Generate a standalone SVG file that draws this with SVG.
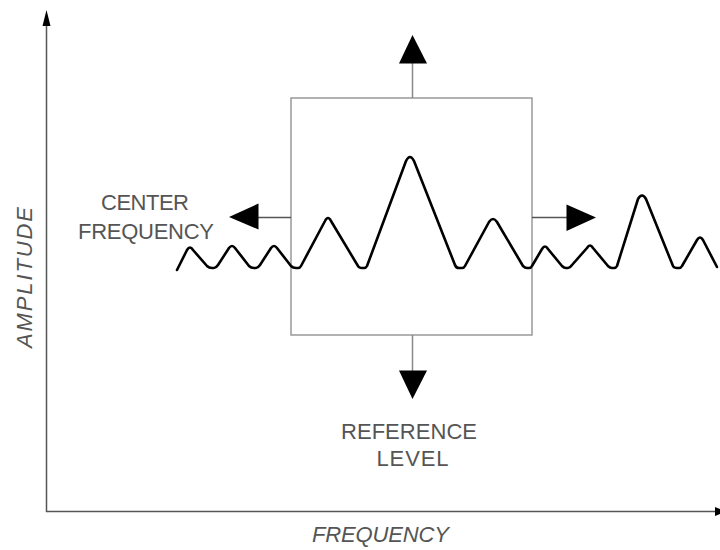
<svg xmlns="http://www.w3.org/2000/svg" width="720" height="550" viewBox="0 0 720 550">
<style>
.lbl{font-family:"Liberation Sans",Arial,sans-serif;font-size:22px;fill:#555}
.it{font-style:italic}
.ax{stroke:#555;stroke-width:1.5;fill:none}
.stem{stroke:#888;stroke-width:1.5;fill:none}
.head{fill:#000;stroke:none}
.wave{fill:none;stroke:#000;stroke-width:2.6;stroke-linejoin:round;stroke-linecap:round}
</style>
<rect width="720" height="550" fill="#fff"/>
<g id="axes">
<line class="ax" x1="46.5" y1="22" x2="46.5" y2="512"/>
<polygon class="head" points="46.5,10 42.5,26 50.5,26"/>
<line class="ax" x1="46" y1="511.5" x2="716" y2="511.5"/>
<polygon class="head" points="726,511.5 715,507 715,516"/>
</g>
<g id="box">
<rect x="291" y="98" width="241" height="237" fill="none" stroke="#999" stroke-width="1.5"/>
</g>
<g id="connectors">
<line class="stem" x1="412.5" y1="98" x2="412.5" y2="62"/>
<polygon class="head" points="412.5,35 399,63.5 427,63.5"/>
<line class="stem" x1="412.5" y1="335" x2="412.5" y2="372"/>
<polygon class="head" points="412.5,399 399,370.5 427,370.5"/>
<line class="ax" x1="291" y1="217.5" x2="257" y2="217.5"/>
<polygon class="head" points="229,217 258.5,203.5 258.5,229.5"/>
<line class="ax" x1="532" y1="217.5" x2="568" y2="217.5"/>
<polygon class="head" points="596,217.5 566.5,204.5 566.5,231"/>
</g>
<g id="wave">
<path class="wave" d="M177,270 L187,250 Q190,245 193,250 L207,266 Q209,268 212,268 L214,268 Q216,268 218,265 L229,248 Q232,244 235,248 L249,266 Q251,268 254,268 L256,268 Q258,268 260,265 L271,248 Q274,244 277,248 L291,266 Q293,268 296,268 L298,268 Q300,268 301,266 L325,221 Q328,215 331,221 L358,266 Q359,268 362,268 L364,268 Q366,268 367,266 L406,161 Q410,153 414,161 L455,265 Q456,268 459,268 L462,268 Q464,268 465,266 L489,222 Q493,216 497,222 L523,266 Q525,268 527,268 L529,268 Q531,268 532,266 L542,249 Q545,244 548,249 L562,266 Q564,268 566,268 L568,268 Q570,268 572,265 L587,248 Q590,243 593,248 L608,266 Q610,268 612,268 L614,268 Q616,268 617,266 L638,199 Q642,192 646,199 L673,266 Q674,268 677,268 L679,268 Q681,268 682,266 L697,240 Q700,235 703,240 L717,267"/>
</g>
<g id="label-center">
<text class="lbl" x="101" y="210" textLength="88" lengthAdjust="spacing">CENTER</text>
<text class="lbl" x="78" y="238.5" textLength="136" lengthAdjust="spacing">FREQUENCY</text>
</g>
<g id="label-reference">
<text class="lbl" x="341" y="438.5" textLength="136" lengthAdjust="spacing">REFERENCE</text>
<text class="lbl" x="376.5" y="465.5" textLength="72" lengthAdjust="spacing">LEVEL</text>
</g>
<g id="label-x">
<text class="lbl it" x="312" y="541.5" textLength="137" lengthAdjust="spacing">FREQUENCY</text>
</g>
<g id="label-y">
<text class="lbl it" transform="translate(32,348) rotate(-90)" x="0" y="0" textLength="141" lengthAdjust="spacing">AMPLITUDE</text>
</g>
</svg>
